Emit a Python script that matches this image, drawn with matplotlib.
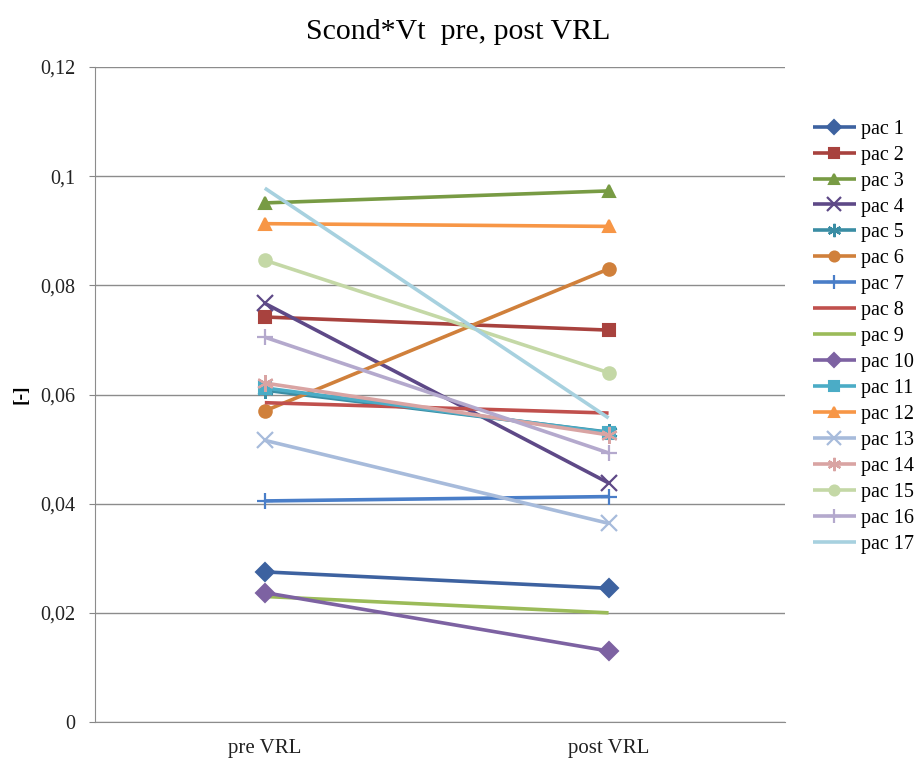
import matplotlib
matplotlib.use("Agg")
import matplotlib.pyplot as plt
from matplotlib.ticker import FuncFormatter

plt.rcParams['font.family'] = ['Liberation Serif', 'DejaVu Serif']

# stages on the x axis
stages = ['pre VRL', 'post VRL']

# Scond*Vt per patient, [pre, post]
pac_values = {
    'pac 1': [0.0275, 0.0245],
    'pac 2': [0.0742, 0.0718],
    'pac 3': [0.0951, 0.0973],
    'pac 4': [0.0767, 0.0438],
    'pac 5': [0.0608, 0.0531],
    'pac 6': [0.0570, 0.0830],
    'pac 7': [0.0405, 0.0413],
    'pac 8': [0.0585, 0.0566],
    'pac 9': [0.0230, 0.0200],
    'pac 10': [0.0237, 0.0130],
    'pac 11': [0.0612, 0.0530],
    'pac 12': [0.0913, 0.0908],
    'pac 13': [0.0516, 0.0364],
    'pac 14': [0.0621, 0.0526],
    'pac 15': [0.0846, 0.0640],
    'pac 16': [0.0705, 0.0493],
    'pac 17': [0.0978, 0.0557],
}

colors = ['#3D62A0', '#A8423E', '#789B44', '#5E4987', '#3A8DA4', '#D0803B',
          '#4A7EC8', '#C0504D', '#9BBB59', '#7D62A2', '#4BACC6', '#F79646',
          '#A7BBDB', '#D9A4A3', '#C4D8A6', '#B4A9CD', '#A7D1DF']
star = (6, 2, 0)
markers = ['D', 's', '^', 'x', star, 'o', '+', None, None, 'D', 's', '^',
           'x', star, 'o', '+', None]

fig = plt.figure(figsize=(9.17, 7.65), dpi=100)
ax = fig.add_axes([0.1036, 0.0562, 0.752, 0.8562])

x = list(range(len(stages)))
for (name, vals), c, m in zip(pac_values.items(), colors, markers):
    ms = 9
    mew = 1.5
    if m in ('x', '+', star):
        ms = 12
        mew = 1.6
    ax.plot(x, vals, color=c, lw=2.6, marker=m, markersize=ms,
            markeredgewidth=mew, markerfacecolor=c, markeredgecolor=c,
            label=name, solid_capstyle='butt')

ax.set_xlim(-0.494, 1.512)
ax.set_ylim(0, 0.12)
ax.set_yticks([0, 0.02, 0.04, 0.06, 0.08, 0.1, 0.12])
ax.yaxis.set_major_formatter(FuncFormatter(
    lambda v, p: '0' if v == 0 else ('%g' % round(v, 3)).replace('.', ',')))
ax.set_xticks(x)
ax.set_xticklabels(stages)
ax.tick_params(axis='y', labelsize=14.5, colors='#222222')
ax.tick_params(axis='x', labelsize=15, colors='#222222')
ax.tick_params(axis='y', length=4, color='#868686', pad=10)
ax.tick_params(axis='x', length=0, pad=12)
ax.grid(axis='y', color='#8C8C8C', lw=1)
ax.set_axisbelow(True)
for s in ('top', 'right'):
    ax.spines[s].set_visible(False)
for s in ('left', 'bottom'):
    ax.spines[s].set_color('#8C8C8C')
ax.set_ylabel('[-]', fontsize=14, fontweight='bold', labelpad=8)

fig.suptitle('Scond*Vt  pre, post VRL', fontsize=21.5, y=0.975)

ax.legend(loc='upper left', bbox_to_anchor=(1.03, 0.932), frameon=False,
          fontsize=14.5, handlelength=2.1, handletextpad=0.25,
          labelspacing=0.34, borderaxespad=0, markerscale=0.8)

fig.savefig('out.png', dpi=100)
